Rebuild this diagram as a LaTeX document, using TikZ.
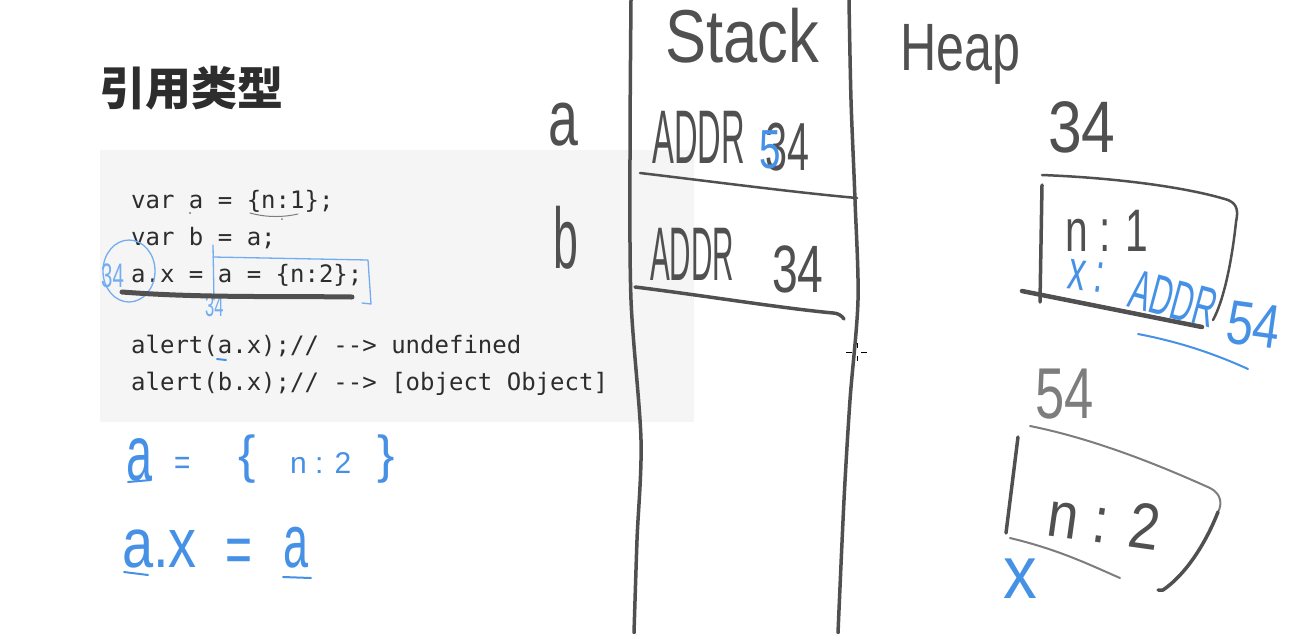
\documentclass[tikz,border=0pt]{standalone}
\usepackage{fontspec}
\usepackage{graphicx}
\newfontfamily\handfont{Liberation Sans}
\newfontfamily\codefont{DejaVu Sans Mono}
\newfontfamily\cjkfont{Noto Sans CJK SC}
\newcommand\fsz[1]{\fontsize{#1}{#1}\selectfont}
\definecolor{penGray}{RGB}{80,80,80}
\definecolor{penLight}{RGB}{125,125,125}
\definecolor{penBlue}{RGB}{70,145,230}
\definecolor{penBlueLight}{RGB}{115,172,240}
\definecolor{codeGray}{RGB}{45,45,45}
\definecolor{boxGray}{RGB}{245,245,245}
\tikzset{
  hw/.style={inner sep=0pt, anchor=base west, text=penGray, font=\handfont},
  hwl/.style={hw, text=penLight},
  hwb/.style={hw, text=penBlue},
  hwbl/.style={hw, text=penBlueLight},
  code/.style={inner sep=0pt, anchor=base west, text=codeGray, font=\codefont\fsz{24}},
  ink/.style={draw=penGray, line width=3.5pt, line cap=round, line join=round},
  inkthin/.style={draw=penGray, line width=2.5pt, line cap=round, line join=round},
  inklight/.style={draw=penLight, line width=2pt, line cap=round, line join=round},
  blueink/.style={draw=penBlue, line width=2pt, line cap=round, line join=round},
  blueinkthin/.style={draw=penBlueLight, line width=1.3pt, line cap=round, line join=round},
}
\begin{document}
\begin{tikzpicture}[x=1pt,y=-1pt]
\fill[white] (0,0) rectangle (1309,633);
\useasboundingbox (0,0) rectangle (1309,633);

% title
\node[inner sep=0pt, anchor=base west, text=codeGray, font=\cjkfont\bfseries\fsz{46}] (title) at (99,105) {引用类型};

% code box
\fill[boxGray] (100,150) rectangle (694,422);
\node[code] (c1) at (131,208) {var a = \{n:1\};};
\node[code] (c2) at (131,245) {var b = a;};
\node[code] (c3) at (131,282) {a.x = a = \{n:2\};};
\node[code] (c4) at (131,353) {alert(a.x);// --> undefined};
\node[code] (c5) at (131,390) {alert(b.x);// --> [object Object]};

% annotations on code
\draw[draw=penLight, line width=1pt, line cap=round] (250,213) .. controls (268,218) and (285,217) .. (298,214);
\fill[penLight] (190,213) circle[radius=1.2];
\fill[penLight] (282,219) circle[radius=1];
\draw[blueinkthin] (129,271) ellipse[x radius=26, y radius=31];
\node[hwbl] (n34a) at (101,287) {\scalebox{0.6}[1]{\fsz{34}34}};
\draw[blueinkthin] (213,245) -- (214,300);
\draw[blueinkthin] (213,257) -- (368,260) -- (371,304) -- (362,303);
\node[hwbl] (n34b) at (205,316) {\scalebox{0.55}[1]{\fsz{30}34}};
\draw[draw=penGray, line width=5pt, line cap=round] (122,292) .. controls (200,298) and (280,296) .. (352,297);
\draw[blueink] (217,359) -- (226,360);

% blue notes below code
\node[hwb] (la) at (126,480) {\scalebox{0.6}[1]{\fsz{78}a}};
\draw[blueink] (128,482) -- (151,480);
\node[hwb] (leq) at (174,474) {\scalebox{0.8}[1]{\fsz{35}=}};
\node[hwb] (lob) at (238,472) {\fsz{52}\{};
\node[hwb] (ln2) at (290,473) {\fsz{30}n : 2};
\node[hwb] (lcb) at (377,472) {\fsz{52}\}};

\node[hwb] (lax) at (122,567) {\scalebox{0.8}[1]{\fsz{70}a.x}};
\draw[blueink] (124,572) -- (148,575);
\node[hwb] (leq2) at (225,573) {\scalebox{0.66}[1]{\fsz{70}=}};
\node[hwb] (la2) at (283,567) {\scalebox{0.6}[1]{\fsz{75}a}};
\draw[blueink] (283,577) -- (311,578);

% stack columns
\draw[ink] plot[smooth] coordinates {(631,0) (630,150) (631,300) (641,440) (637,540) (634,633)};
\draw[ink] plot[smooth] coordinates {(849,0) (851,100) (855,200) (858,300) (850,400) (844,500) (838,633)};
\draw[inkthin] (640,173) .. controls (700,180) and (790,192) .. (857,198);
\draw[ink] (635,287) .. controls (700,295) and (780,308) .. (833,313) .. controls (838,313) and (842,316) .. (844,319);

\node[hw] (stack) at (665,62) {\scalebox{0.82}[1]{\fsz{75}Stack}};
\node[hw] (heap) at (900,70) {\scalebox{0.75}[1]{\fsz{67}Heap}};
\node[hw] (va) at (548,145) {\scalebox{0.68}[1]{\fsz{79}a}};
\node[hw] (vb) at (553,268) {\scalebox{0.52}[1]{\fsz{86}b}};

\node[hw] (addrA) at (652,163) {\scalebox{0.43}[1]{\fsz{76}ADDR}};
\node[hw] (numA) at (765,170) {\scalebox{0.58}[1]{\fsz{68}34}};
\node[hwb] (fiveA) at (759,168) {\scalebox{0.7}[1]{\fsz{55}5}};
\node[hw] (addrB) at (650,280) {\scalebox{0.39}[1]{\fsz{76}ADDR}};
\node[hw] (numB) at (772,292) {\scalebox{0.69}[1]{\fsz{67}34}};

% cursor
\draw[black, line width=0.8pt] (846,352) -- (852,352) (861,352) -- (867,352) (857,343) -- (857,348) (857,356) -- (857,361);

% heap object 34
\node[hw] (h34) at (1048,152) {\scalebox{0.83}[1]{\fsz{73}34}};
\draw[inkthin] (1042,175) .. controls (1120,178) and (1190,188) .. (1228,200) .. controls (1238,204) and (1238,212) .. (1236,222) .. controls (1232,260) and (1224,300) .. (1213,320);
\draw[ink] (1042,185) -- (1040,302);
\draw[draw=penGray, line width=4.5pt, line cap=round] (1022,291) -- (1202,327);
\node[hw] (hn1) at (1065,251) {\scalebox{0.68}[1]{\fsz{60}n : 1}};
\node[hwb, rotate=-8] (hx) at (1066,288) {\scalebox{0.62}[1]{\fsz{56}x :}};
\node[hwb, rotate=-15] (haddr) at (1126,306) {\scalebox{0.55}[1]{\fsz{56}ADDR}};
\node[hwb, rotate=-8] (h54b) at (1224,342) {\scalebox{0.78}[1]{\fsz{62}54}};
\draw[blueink] (1138,334) .. controls (1180,342) and (1215,354) .. (1248,369);

% heap object 54
\node[hwl] (h54) at (1035,418) {\scalebox{0.73}[1]{\fsz{72}54}};
\draw[inklight] (1030,426) .. controls (1100,440) and (1170,470) .. (1210,488) .. controls (1222,494) and (1222,505) .. (1218,512);
\draw[ink] (1218,512) .. controls (1205,545) and (1185,575) .. (1163,590) -- (1158,590);
\draw[ink] (1018,437) -- (1006,533);
\draw[inklight] (1010,538) .. controls (1060,550) and (1090,565) .. (1120,578);
\node[hw, rotate=-8] (hn2) at (1045,535) {\scalebox{0.85}[1]{\fsz{65}n : 2}};
\node[hwb] (hx2) at (1003,598) {\scalebox{0.9}[1]{\fsz{75}x}};
\end{tikzpicture}
\end{document}
